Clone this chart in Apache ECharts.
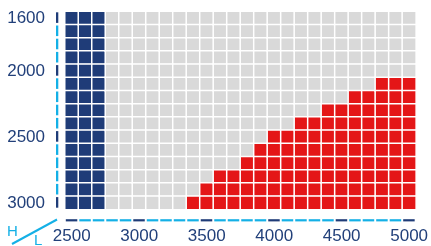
<!DOCTYPE html>
<html>
<head>
    <meta charset="utf-8">
    <title>Grid</title>
    <script src="https://cdn.jsdelivr.net/npm/echarts@6/dist/echarts.min.js"></script>
    <style type="text/css">
        html, body { margin: 0; padding: 0; background: #fff; }
        #main { width: 431px; height: 246px; }
    </style>
</head>
<body>
<div id="main"></div>
<script>
    // categories
    var xCats = ['2500','2600','2700','2800','2900','3000','3100','3200','3300','3400','3500','3600','3700',
                 '3800','3900','4000','4100','4200','4300','4400','4500','4600','4700','4800','4900','5000'];
    var yCats = ['1600','1700','1800','1900','2000','2100','2200','2300','2400','2500','2600','2700','2800','2900','3000'];
    // labelled ticks
    var xLabels = ['2500','3000','3500','4000','4500','5000'];
    var yLabels = ['1600','2000','2500','3000'];
    // blue columns
    var blueCols = ['2500','2600','2700'];
    // red from this y value down to 3000, per x column
    var redFrom = [null,null,null,null,null,null,null,null,null,
                   '3000','2900','2800','2800','2700','2600','2500','2500','2400','2400',
                   '2300','2300','2200','2200','2100','2100','2100'];

    var navy = '#1f3c78';
    var cyan = '#14b0e6';
    var textColor = '#22407a';

    var heat = [];
    for (var i = 0; i < xCats.length; i++) {
        for (var j = 0; j < yCats.length; j++) {
            var v = 0;
            if (blueCols.indexOf(xCats[i]) >= 0) {
                v = 2;
            } else if (redFrom[i] !== null && +yCats[j] >= +redFrom[i]) {
                v = 1;
            }
            heat.push([i, j, v]);
        }
    }

    var xDash = xCats.map(function (c, i) { return [i, yCats.length - 1]; });
    var yDash = yCats.map(function (c, j) { return [0, j]; });

    var myChart = echarts.init(document.getElementById('main'));

    var option = {
        animation: false,
        grid: { left: 65, right: 13, top: 11.5, bottom: 36.5 },
        xAxis: {
            type: 'category',
            data: xCats,
            axisLine: { show: false },
            axisTick: { show: false },
            splitLine: { show: false },
            axisLabel: {
                margin: 18,
                color: textColor,
                fontSize: 17,
                fontFamily: 'Liberation Sans',
                interval: function (index, value) { return xLabels.indexOf(value) >= 0; }
            }
        },
        yAxis: {
            type: 'category',
            data: yCats,
            inverse: true,
            axisLine: { show: false },
            axisTick: { show: false },
            splitLine: { show: false },
            axisLabel: {
                margin: 20,
                color: textColor,
                fontSize: 17,
                fontFamily: 'Liberation Sans',
                interval: function (index, value) { return yLabels.indexOf(value) >= 0; }
            }
        },
        visualMap: {
            type: 'piecewise',
            show: false,
            dimension: 2,
            seriesIndex: 0,
            pieces: [
                { value: 0, color: '#d9d9d9' },
                { value: 1, color: '#e41617' },
                { value: 2, color: navy }
            ]
        },
        graphic: [
            { type: 'line', shape: { x1: 12, y1: 244, x2: 57, y2: 219.5 }, style: { stroke: cyan, lineWidth: 2 } },
            { type: 'text', left: 7, top: 224, style: { text: 'H', fill: cyan, font: '15px "Liberation Sans"' } },
            { type: 'text', left: 34, top: 233, style: { text: 'L', fill: cyan, font: '15px "Liberation Sans"' } }
        ],
        series: [
            {
                type: 'heatmap',
                data: heat,
                itemStyle: { borderColor: '#fff', borderWidth: 1.5 },
                emphasis: { disabled: true },
                silent: true
            },
            {
                type: 'custom',
                silent: true,
                data: xDash,
                renderItem: function (params, api) {
                    var c = api.coord([api.value(0), api.value(1)]);
                    var s = api.size([1, 1]);
                    var dark = xLabels.indexOf(xCats[api.value(0)]) >= 0;
                    return {
                        type: 'rect',
                        shape: { x: c[0] - s[0] / 2 + 0.8, y: c[1] + s[1] / 2 + 9.7, width: s[0] - 2, height: 2.2 },
                        style: { fill: dark ? navy : cyan }
                    };
                }
            },
            {
                type: 'custom',
                silent: true,
                data: yDash,
                renderItem: function (params, api) {
                    var c = api.coord([api.value(0), api.value(1)]);
                    var s = api.size([1, 1]);
                    var dark = yLabels.indexOf(yCats[api.value(1)]) >= 0;
                    return {
                        type: 'rect',
                        shape: { x: c[0] - s[0] / 2 - 9, y: c[1] - s[1] / 2 + 0.8, width: 2.3, height: s[1] - 2.6 },
                        style: { fill: dark ? navy : cyan }
                    };
                }
            }
        ]
    };

    myChart.setOption(option);
</script>
</body>
</html>
